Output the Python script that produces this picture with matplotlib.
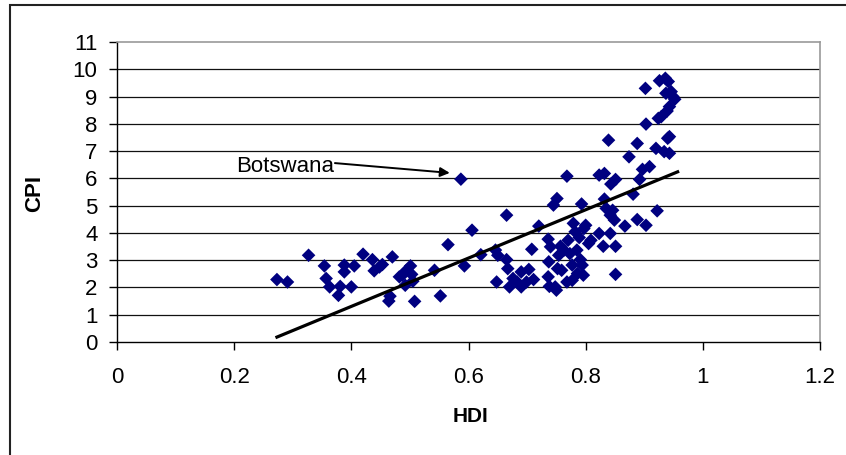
import matplotlib
matplotlib.use("Agg")
import matplotlib.pyplot as plt
from matplotlib.patches import Rectangle

plt.rcParams['font.family'] = ['Liberation Sans', 'DejaVu Sans']

hdi = [0.273, 0.291, 0.327, 0.354, 0.357, 0.363, 0.378, 0.381, 0.388, 0.388,
       0.400, 0.405, 0.420, 0.436, 0.439, 0.448, 0.453, 0.464, 0.466, 0.470,
       0.482, 0.487, 0.492, 0.494, 0.501, 0.505, 0.503, 0.508, 0.542, 0.552,
       0.565, 0.587, 0.593, 0.606, 0.621, 0.646, 0.650, 0.648, 0.665, 0.665,
       0.667, 0.670, 0.676, 0.683, 0.690, 0.690, 0.699, 0.703, 0.708, 0.711,
       0.720, 0.736, 0.736, 0.737, 0.738, 0.740, 0.745, 0.748, 0.750, 0.751,
       0.752, 0.754, 0.757, 0.759, 0.763, 0.768, 0.768, 0.770, 0.773, 0.777,
       0.777, 0.779, 0.782, 0.785, 0.786, 0.789, 0.791, 0.793, 0.794, 0.796,
       0.797, 0.800, 0.805, 0.809, 0.823, 0.823, 0.830, 0.832, 0.832, 0.835,
       0.839, 0.842, 0.842, 0.843, 0.846, 0.849, 0.851, 0.851, 0.851, 0.867,
       0.874, 0.881, 0.888, 0.888, 0.892, 0.897, 0.902, 0.903, 0.903, 0.909,
       0.920, 0.922, 0.924, 0.926, 0.929, 0.934, 0.936, 0.937, 0.939, 0.940,
       0.941, 0.943, 0.943, 0.943, 0.946, 0.949, 0.952]
cpi = [2.29, 2.20, 3.18, 2.79, 2.33, 2.02, 1.71, 2.04, 2.82, 2.57,
       2.02, 2.79, 3.22, 3.02, 2.61, 2.75, 2.84, 1.50, 1.68, 3.12,
       2.39, 2.45, 2.08, 2.63, 2.79, 2.23, 2.48, 1.49, 2.63, 1.69,
       3.57, 5.97, 2.79, 4.10, 3.20, 3.37, 3.18, 2.20, 4.65, 3.02,
       2.69, 2.02, 2.33, 2.20, 2.57, 2.02, 2.20, 2.66, 3.40, 2.29,
       4.25, 3.77, 2.39, 2.94, 2.04, 3.49, 5.02, 2.02, 1.90, 5.26,
       2.69, 3.18, 3.51, 2.63, 3.37, 6.08, 2.20, 3.73, 3.24, 2.26,
       2.82, 4.35, 4.04, 3.37, 2.51, 3.83, 3.02, 5.06, 2.82, 2.45,
       4.16, 4.28, 3.61, 3.73, 3.98, 6.12, 3.51, 6.18, 5.24, 4.90,
       7.40, 4.65, 3.98, 5.79, 4.83, 4.47, 5.96, 3.51, 2.48, 4.25,
       6.79, 5.42, 7.28, 4.49, 5.96, 6.33, 9.30, 7.99, 4.28, 6.43,
       7.10, 4.81, 8.20, 9.58, 8.26, 6.98, 9.67, 9.12, 8.47, 7.47,
       9.55, 6.92, 7.53, 8.63, 9.18, 9.00, 8.90]

trend_x = [0.273, 0.957]
trend_y = [0.18, 6.24]

x_ticks = [0, 0.2, 0.4, 0.6, 0.8, 1, 1.2]
x_tick_labels = ['0', '0.2', '0.4', '0.6', '0.8', '1', '1.2']
y_ticks = list(range(0, 12))

label_text = 'Botswana'
label_xy = (0.203, 6.45)
arrow_tail = (0.372, 6.56)
arrow_tip = (0.568, 6.20)

fig = plt.figure(figsize=(8.46, 4.55), dpi=100)
ax = fig.add_axes([117/846, 1-342/455, (820-117)/846, 300/455])

# outer frame
fig.patches.append(Rectangle((10/846, -0.1), 1.1, 1-5/455+0.1, transform=fig.transFigure,
                             fill=False, edgecolor='#222222', lw=1.5))

ax.set_xlim(0, 1.2)
ax.set_ylim(0, 11)
ax.set_xticks(x_ticks)
ax.set_xticklabels(x_tick_labels)
ax.set_yticks(y_ticks)
for y in y_ticks[1:-1]:
    ax.axhline(y, color='#111111', lw=0.9, zorder=1)

for s in ['top', 'right']:
    ax.spines[s].set_color('#999999')
    ax.spines[s].set_linewidth(1.2)
for s in ['left', 'bottom']:
    ax.spines[s].set_color('#000000')
    ax.spines[s].set_linewidth(1.0)

ax.tick_params(axis='both', direction='out', length=6, width=1, labelsize=16, pad=8)
ax.tick_params(axis='x', pad=12)

ax.scatter(hdi, cpi, marker='D', s=48, color='#000080', edgecolors='none', zorder=3)
ax.plot(trend_x, trend_y, color='black', lw=2.3, zorder=4)

ax.annotate('', xy=arrow_tip, xytext=arrow_tail,
            arrowprops=dict(arrowstyle='-|>', color='black', lw=1.4, mutation_scale=14,
                            shrinkA=0, shrinkB=0), zorder=5)
ax.text(label_xy[0], label_xy[1], label_text, fontsize=16, va='center', ha='left', zorder=5)

fig.text(470/846, 1-416/455, 'HDI', fontsize=15, fontweight='bold', ha='center', va='center')
fig.text(35/846, 1-193/455, 'CPI', fontsize=16, fontweight='bold', ha='center', va='center',
         rotation=90)

fig.savefig('out.png', dpi=100)
